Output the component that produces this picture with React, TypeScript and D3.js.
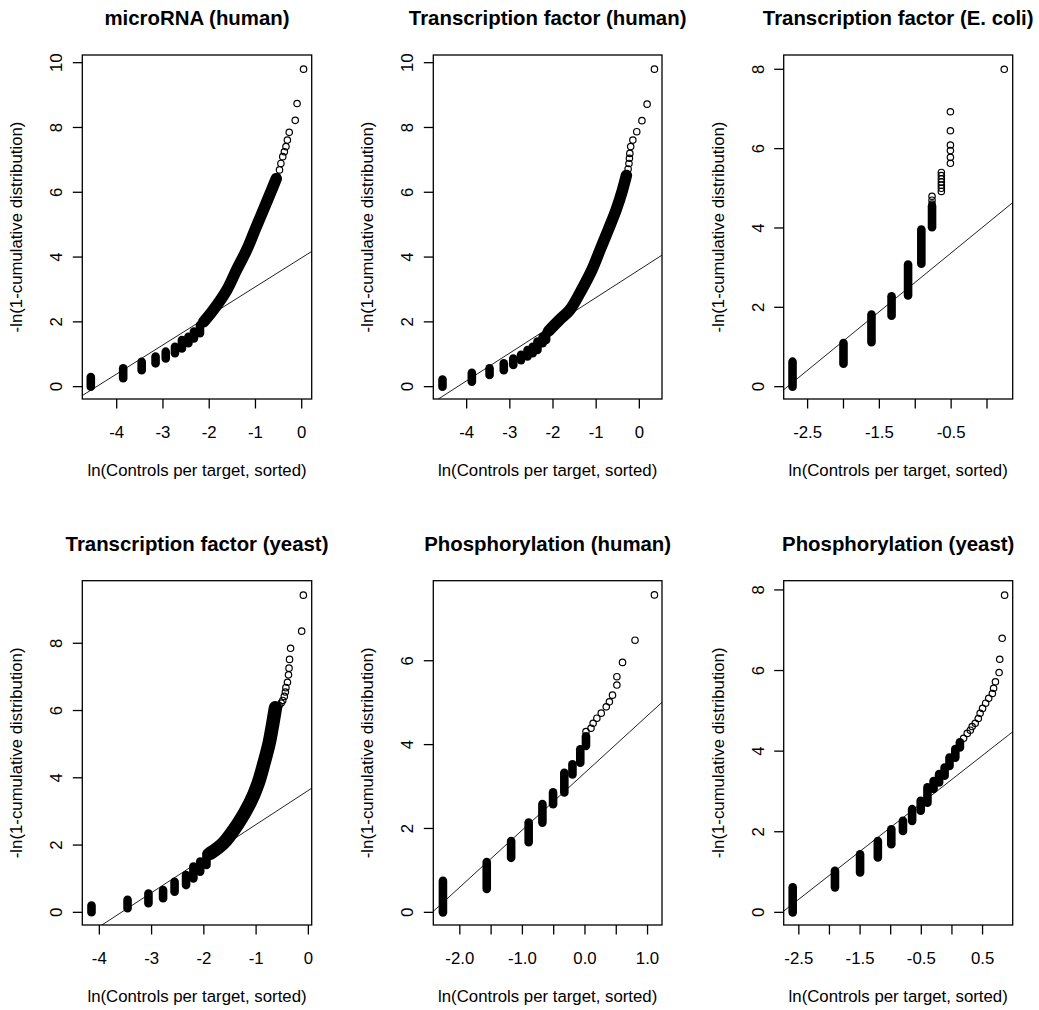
import React, { useRef, useEffect } from "react";
import * as d3 from "d3";

// panel titles, row by row
const titles = [
  "microRNA (human)",
  "Transcription factor (human)",
  "Transcription factor (E. coli)",
  "Transcription factor (yeast)",
  "Phosphorylation (human)",
  "Phosphorylation (yeast)",
];

const xAxisTitle = "ln(Controls per target, sorted)";
const yAxisTitle = "-ln(1-cumulative distribution)";

// axis limits (the plot frame edges)
const xLimits = [
  [-4.744, 0.216],
  [-4.773, 0.525],
  [-2.833, 0.358],
  [-4.326, 0.064],
  [-2.424, 1.231],
  [-2.747, 0.992],
];
const yLimits = [
  [-0.381, 10.237],
  [-0.381, 10.237],
  [-0.311, 8.36],
  [-0.377, 9.86],
  [-0.302, 7.909],
  [-0.314, 8.229],
];

const xTicks = [
  [-4, -3, -2, -1, 0],
  [-4, -3, -2, -1, 0],
  [-2.5, -2, -1.5, -1, -0.5, 0],
  [-4, -3, -2, -1, 0],
  [-2, -1.5, -1, -0.5, 0, 0.5, 1],
  [-2.5, -2, -1.5, -1, -0.5, 0, 0.5],
];
const xTickLabels = [
  [-4, -3, -2, -1, 0],
  [-4, -3, -2, -1, 0],
  [-2.5, -1.5, -0.5],
  [-4, -3, -2, -1, 0],
  [-2, -1, 0, 1],
  [-2.5, -1.5, -0.5, 0.5],
];
const xTickDigits = [0, 0, 1, 0, 1, 1];
const yTicks = [
  [0, 2, 4, 6, 8, 10],
  [0, 2, 4, 6, 8, 10],
  [0, 2, 4, 6, 8],
  [0, 2, 4, 6, 8],
  [0, 2, 4, 6],
  [0, 2, 4, 6, 8],
];

// fitted reference lines: [intercept, slope]
const fitLines = [
  [3.98, 0.897],
  [3.61, 0.857],
  [4.11, 1.478],
  [3.625, 1.013],
  [3.33, 1.364],
  [3.3, 1.19],
];

// stacked runs of overlapping points: [x, yLow, yHigh]
const columns1 = [
  [-4.56, 0, 0.3], [-3.86, 0.26, 0.57], [-3.46, 0.51, 0.77], [-3.16, 0.72, 0.93],
  [-2.94, 0.87, 1.08], [-2.74, 1.03, 1.23], [-2.59, 1.18, 1.44], [-2.45, 1.34, 1.54],
  [-2.33, 1.49, 1.7], [-2.2, 1.65, 1.9],
];
const columns2 = [
  [-4.56, 0, 0.22], [-3.88, 0.15, 0.43], [-3.47, 0.36, 0.57], [-3.14, 0.51, 0.72],
  [-2.92, 0.67, 0.87], [-2.74, 0.82, 0.98], [-2.59, 0.93, 1.13], [-2.47, 1.03, 1.23],
  [-2.36, 1.13, 1.39], [-2.24, 1.34, 1.54], [-2.16, 1.44, 1.65],
];
const columns3 = [
  [-2.71, 0, 0.63], [-2.0, 0.58, 1.1], [-1.61, 1.12, 1.82], [-1.33, 1.79, 2.28],
  [-1.1, 2.3, 3.08], [-0.915, 3.1, 3.96], [-0.766, 4.02, 4.55],
];
const columns4 = [
  [-4.15, 0, 0.2], [-3.46, 0.12, 0.37], [-3.06, 0.27, 0.56], [-2.78, 0.42, 0.66],
  [-2.56, 0.61, 0.91], [-2.34, 0.81, 1.11], [-2.2, 1.01, 1.36], [-2.07, 1.21, 1.51],
  [-1.95, 1.41, 1.75],
];
const columns5 = [
  [-2.27, 0, 0.75], [-1.57, 0.56, 1.2], [-1.18, 1.3, 1.7], [-0.9, 1.67, 2.14],
  [-0.68, 2.14, 2.58], [-0.51, 2.58, 2.86], [-0.33, 2.86, 3.33], [-0.2, 3.29, 3.53],
  [-0.075, 3.57, 3.89], [0.016, 3.97, 4.2],
];
const columns6 = [
  [-2.6, 0, 0.62], [-1.91, 0.62, 1.03], [-1.5, 0.99, 1.44], [-1.21, 1.36, 1.77],
  [-0.99, 1.69, 2.06], [-0.8, 2.02, 2.27], [-0.65, 2.27, 2.56], [-0.51, 2.52, 2.77],
  [-0.4, 2.72, 3.1], [-0.3, 3.06, 3.26], [-0.21, 3.22, 3.43], [-0.12, 3.39, 3.59],
  [-0.04, 3.63, 3.84], [0.055, 3.84, 4.05], [0.13, 4.09, 4.22],
];

// dense continuous part of the point cloud
const band1 = [
  [-2.12, 2.0], [-1.91, 2.37], [-1.62, 2.98], [-1.41, 3.6], [-1.19, 4.22],
  [-1.01, 4.84], [-0.83, 5.45], [-0.65, 6.07], [-0.55, 6.42],
];
const band2 = [
  [-2.1, 1.72], [-1.85, 2.06], [-1.61, 2.37], [-1.34, 2.98], [-1.1, 3.6],
  [-0.91, 4.22], [-0.72, 4.84], [-0.54, 5.45], [-0.39, 6.07], [-0.3, 6.52],
];
const band4 = [
  [-1.88, 1.75], [-1.63, 2.05], [-1.34, 2.65], [-1.12, 3.24], [-0.96, 3.84],
  [-0.85, 4.43], [-0.75, 5.03], [-0.68, 5.62], [-0.63, 6.08],
];

// individual open circles (upper tails)
const open1 = [
  [-0.53, 6.48], [-0.48, 6.69], [-0.45, 6.89], [-0.41, 7.1], [-0.375, 7.25], [-0.34, 7.41],
  [-0.31, 7.61], [-0.27, 7.85], [-0.14, 8.22], [-0.1, 8.74], [0.04, 9.8],
];
const open2 = [
  [-0.26, 6.72], [-0.24, 6.89], [-0.23, 7.05], [-0.22, 7.2], [-0.2, 7.41], [-0.15, 7.61],
  [-0.06, 7.87], [0.06, 8.21], [0.18, 8.72], [0.35, 9.8],
];
const open3 = [
  [-0.766, 4.6], [-0.766, 4.7], [-0.766, 4.8],
  [-0.636, 4.92], [-0.636, 5.0], [-0.636, 5.08], [-0.636, 5.16], [-0.636, 5.24],
  [-0.636, 5.32], [-0.636, 5.4],
  [-0.51, 5.63], [-0.51, 5.78], [-0.51, 5.95], [-0.51, 6.09], [-0.51, 6.45], [-0.51, 6.93],
  [0.24, 8.0],
];
const open4 = [
  [-0.56, 6.15], [-0.52, 6.22], [-0.49, 6.3], [-0.46, 6.42], [-0.44, 6.55], [-0.43, 6.68],
  [-0.4, 6.84], [-0.38, 7.06], [-0.37, 7.26], [-0.36, 7.52], [-0.34, 7.85],
  [-0.128, 8.36], [-0.096, 9.43],
];
const open5 = [
  [0.016, 4.31], [0.096, 4.39], [0.13, 4.51], [0.19, 4.63], [0.26, 4.75], [0.34, 4.9],
  [0.39, 5.02], [0.44, 5.18], [0.51, 5.42], [0.51, 5.62], [0.6, 5.96], [0.8, 6.49], [1.11, 7.57],
];
const open6 = [
  [0.19, 4.32], [0.25, 4.44], [0.3, 4.52], [0.33, 4.61], [0.38, 4.69], [0.43, 4.81],
  [0.46, 4.94], [0.5, 5.06], [0.55, 5.19], [0.6, 5.31], [0.66, 5.43], [0.68, 5.56],
  [0.71, 5.72], [0.77, 5.95], [0.78, 6.28], [0.82, 6.8], [0.86, 7.87],
];

const columns = [columns1, columns2, columns3, columns4, columns5, columns6];
const bands = [band1, band2, [], band4, [], []];
const openPts = [open1, open2, open3, open4, open5, open6];

// plot frame positions in the 3 x 2 grid
const colX = [[82.3, 311.7], [433.3, 662], [783.7, 1012.7]];
const rowY = [[55, 399], [580.7, 925]];
const bandWidth = [11.5, 11.5, 0, 13.5, 0, 0];

const FONT = "'Liberation Sans', Arial, Helvetica, sans-serif";

const App = () => {
  const svgRef = useRef(null);

  useEffect(() => {
    const svg = d3.select(svgRef.current);
    svg.selectAll("*").remove();

    titles.forEach((title, i) => {
      const [left, right] = colX[i % 3];
      const [top, bottom] = rowY[Math.floor(i / 3)];
      const x = d3.scaleLinear().domain(xLimits[i]).range([left, right]);
      const y = d3.scaleLinear().domain(yLimits[i]).range([bottom, top]);
      const cx = (left + right) / 2;
      const cy = (top + bottom) / 2;

      const g = svg.append("g");

      g.append("clipPath")
        .attr("id", `clip${i}`)
        .append("rect")
        .attr("x", left)
        .attr("y", top)
        .attr("width", right - left)
        .attr("height", bottom - top);

      const plot = g.append("g").attr("clip-path", `url(#clip${i})`);

      // fitted line
      const [a, b] = fitLines[i];
      const [x0, x1] = xLimits[i];
      plot.append("line")
        .attr("x1", x(x0)).attr("y1", y(a + b * x0))
        .attr("x2", x(x1)).attr("y2", y(a + b * x1))
        .attr("stroke", "#222")
        .attr("stroke-width", 1);

      // stacked point runs
      plot.selectAll("line.col")
        .data(columns[i])
        .join("line")
        .attr("class", "col")
        .attr("x1", d => x(d[0])).attr("x2", d => x(d[0]))
        .attr("y1", d => y(d[1])).attr("y2", d => y(d[2]))
        .attr("stroke", "#000")
        .attr("stroke-width", 8.6)
        .attr("stroke-linecap", "round");

      if (bands[i].length) {
        plot.append("path")
          .attr("d", d3.line().curve(d3.curveCatmullRom).x(d => x(d[0])).y(d => y(d[1]))(bands[i]))
          .attr("fill", "none")
          .attr("stroke", "#000")
          .attr("stroke-width", bandWidth[i])
          .attr("stroke-linecap", "round")
          .attr("stroke-linejoin", "round");
      }

      plot.selectAll("circle")
        .data(openPts[i])
        .join("circle")
        .attr("cx", d => x(d[0]))
        .attr("cy", d => y(d[1]))
        .attr("r", 3.2)
        .attr("fill", "none")
        .attr("stroke", "#000")
        .attr("stroke-width", 1.2);

      // frame
      g.append("rect")
        .attr("x", left).attr("y", top)
        .attr("width", right - left).attr("height", bottom - top)
        .attr("fill", "none")
        .attr("stroke", "#000")
        .attr("stroke-width", 1.3);

      // x ticks
      g.selectAll("line.xt")
        .data(xTicks[i])
        .join("line")
        .attr("class", "xt")
        .attr("x1", d => x(d)).attr("x2", d => x(d))
        .attr("y1", bottom).attr("y2", bottom + 9.5)
        .attr("stroke", "#000")
        .attr("stroke-width", 1.3);

      g.selectAll("text.xl")
        .data(xTickLabels[i])
        .join("text")
        .attr("class", "xl")
        .attr("x", d => x(d))
        .attr("y", bottom + 33)
        .attr("text-anchor", "middle")
        .attr("dominant-baseline", "central")
        .style("font-family", FONT)
        .style("font-size", "16.8px")
        .text(d => d.toFixed(xTickDigits[i]));

      // y ticks
      g.selectAll("line.yt")
        .data(yTicks[i])
        .join("line")
        .attr("class", "yt")
        .attr("x1", left).attr("x2", left - 9.5)
        .attr("y1", d => y(d)).attr("y2", d => y(d))
        .attr("stroke", "#000")
        .attr("stroke-width", 1.3);

      g.selectAll("text.yl")
        .data(yTicks[i])
        .join("text")
        .attr("class", "yl")
        .attr("transform", d => `translate(${left - 25.7},${y(d)}) rotate(-90)`)
        .attr("text-anchor", "middle")
        .attr("dominant-baseline", "central")
        .style("font-family", FONT)
        .style("font-size", "16.8px")
        .text(d => d);

      // titles
      g.append("text")
        .attr("x", cx)
        .attr("y", top - 37)
        .attr("text-anchor", "middle")
        .attr("dominant-baseline", "central")
        .style("font-family", FONT)
        .style("font-size", "20.4px")
        .style("font-weight", "bold")
        .text(title);

      g.append("text")
        .attr("x", cx)
        .attr("y", bottom + 71)
        .attr("text-anchor", "middle")
        .attr("dominant-baseline", "central")
        .style("font-family", FONT)
        .style("font-size", "16.8px")
        .text(xAxisTitle);

      g.append("text")
        .attr("transform", `translate(${left - 65.5},${cy}) rotate(-90)`)
        .attr("text-anchor", "middle")
        .attr("dominant-baseline", "central")
        .style("font-family", FONT)
        .style("font-size", "16.8px")
        .text(yAxisTitle);
    });
  }, []);

  return (
    <svg
      ref={svgRef}
      width={1039}
      height={1010}
      style={{ position: "absolute", left: 0, top: 0, background: "#fff" }}
    />
  );
};

export default App;
